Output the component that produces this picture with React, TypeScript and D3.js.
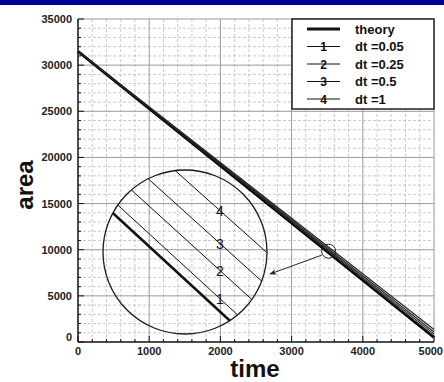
import React from 'react';
import * as d3 from 'd3';

// data
const times = [0, 5000];
const theoryArea = [31500, 500];
const dt005Area = [31500, 610];
const dt025Area = [31500, 850];
const dt05Area = [31500, 1080];
const dt1Area = [31500, 1360];

const seriesNames = ['theory', 'dt =0.05', 'dt =0.25', 'dt =0.5', 'dt =1'];
const seriesMarks = ['', '1', '2', '3', '4'];
const seriesValues = [theoryArea, dt005Area, dt025Area, dt05Area, dt1Area];

const xTicks = [0, 1000, 2000, 3000, 4000, 5000];
const yTicks = [0, 5000, 10000, 15000, 20000, 25000, 30000, 35000];

// zoomed spot shown in the inset
const zoomTime = 3520;
const zoomArea = 9842;

const W = 444;
const H = 382;
const FONT = 'Liberation Sans, Arial, sans-serif';

export default function App() {
  const x = d3.scaleLinear().domain([0, 5000]).range([78, 434]);
  const y = d3.scaleLinear().domain([0, 35000]).range([342, 19]);

  const xMinor = d3.range(0, 5001, 200);
  const yMinor = d3.range(0, 35001, 1000);

  const line = d3.line<[number, number]>()
    .x(d => x(d[0]))
    .y(d => y(d[1]));

  const pts = (vals: number[]) => times.map((t, i) => [t, vals[i]] as [number, number]);

  // inset
  const cx = 185, cy = 252, r = 82;
  const halfT = 73.6, halfA = 496;
  const xi = d3.scaleLinear().domain([zoomTime - halfT, zoomTime + halfT]).range([cx - r, cx + r]);
  const yi = d3.scaleLinear().domain([zoomArea - halfA, zoomArea + halfA]).range([cy + r, cy - r]);
  const lineInset = d3.line<[number, number]>()
    .x(d => xi(d[0]))
    .y(d => yi(d[1]));
  const labelX = 220;
  const labelT = xi.invert(labelX);

  const spotX = x(zoomTime);
  const spotY = y(zoomArea);

  // legend
  const lgX = 292, lgY = 19, lgW = 142, lgH = 90;
  const lgRow = (i: number) => lgY + 10 + i * 17.5;

  return (
    <svg width={W} height={H} style={{ position: 'absolute', left: 0, top: 0, background: '#fff' }}
      fontFamily={FONT}>
      <rect x={0} y={0} width={W} height={5} fill="#000096" />

      {/* minor grid */}
      {xMinor.filter(v => v % 1000 !== 0).map(v => (
        <line key={'xm' + v} x1={x(v)} x2={x(v)} y1={y(0)} y2={y(35000)}
          stroke="#bdbdbd" strokeWidth={0.8} strokeDasharray="3,2" />
      ))}
      {yMinor.filter(v => v % 5000 !== 0).map(v => (
        <line key={'ym' + v} x1={x(0)} x2={x(5000)} y1={y(v)} y2={y(v)}
          stroke="#bdbdbd" strokeWidth={0.8} strokeDasharray="3,2" />
      ))}
      {/* major grid */}
      {xTicks.slice(1).map(v => (
        <line key={'xg' + v} x1={x(v)} x2={x(v)} y1={y(0)} y2={y(35000)} stroke="#9a9a9a" strokeWidth={1} />
      ))}
      {yTicks.slice(1).map(v => (
        <line key={'yg' + v} x1={x(0)} x2={x(5000)} y1={y(v)} y2={y(v)} stroke="#9a9a9a" strokeWidth={1} />
      ))}

      {/* axes */}
      <line x1={x(0)} x2={x(5000)} y1={y(0)} y2={y(0)} stroke="#111" strokeWidth={1.5} />
      <line x1={x(0)} x2={x(0)} y1={y(0)} y2={y(35000)} stroke="#111" strokeWidth={1.5} />
      {xMinor.map(v => (
        <line key={'xt' + v} x1={x(v)} x2={x(v)} y1={y(0)} y2={y(0) - (v % 1000 === 0 ? 6 : 3)}
          stroke="#111" strokeWidth={1} />
      ))}
      {yMinor.map(v => (
        <line key={'yt' + v} x1={x(0)} x2={x(0) + (v % 5000 === 0 ? 6 : 3)} y1={y(v)} y2={y(v)}
          stroke="#111" strokeWidth={1} />
      ))}
      {xTicks.map(v => (
        <text key={'xl' + v} x={v === 5000 ? W - 1 : x(v)} y={355} textAnchor={v === 5000 ? 'end' : 'middle'}
          fontSize={11} fontWeight="bold" fill="#222">{v}</text>
      ))}
      {yTicks.map(v => (
        <text key={'yl' + v} x={72} y={y(v) + (v === 0 ? -1 : 4)} textAnchor="end" fontSize={11} fontWeight="bold" fill="#222">{v}</text>
      ))}
      <text x={255} y={377} textAnchor="middle" fontSize={24} fontWeight="bold" fill="#111">time</text>
      <text transform={`translate(33,185) rotate(-90)`} textAnchor="middle" fontSize={24} fontWeight="bold" fill="#111">area</text>

      {/* series */}
      {seriesValues.map((vals, i) => (
        <path key={'s' + i} d={line(pts(vals)) || ''} fill="none" stroke={i === 0 ? '#000' : '#222'}
          strokeWidth={i === 0 ? 2.8 : 1.1} />
      ))}

      {/* marked spot and arrow */}
      <circle cx={spotX} cy={spotY} r={7} fill="none" stroke="#222" strokeWidth={1} />
      <defs>
        <marker id="arrowHead" viewBox="0 0 10 10" refX={9} refY={5} markerWidth={9} markerHeight={7} orient="auto">
          <path d="M0,1 L10,5 L0,9 L3,5 Z" fill="#222" />
        </marker>
        <clipPath id="insetClip">
          <circle cx={cx} cy={cy} r={r} />
        </clipPath>
      </defs>
      <line x1={spotX - 7} x2={270} y1={spotY + 4} y2={274} stroke="#222" strokeWidth={1} markerEnd="url(#arrowHead)" />

      {/* inset */}
      <circle cx={cx} cy={cy} r={r} fill="none" stroke="#1a1a1a" strokeWidth={1.3} />
      <g clipPath="url(#insetClip)">
        {seriesValues.map((vals, i) => (
          <path key={'i' + i} d={lineInset(pts(vals)) || ''} fill="none" stroke="#111"
            strokeWidth={i === 0 ? 2.6 : 1} />
        ))}
      </g>
      {seriesValues.map((vals, i) => {
        if (i === 0) return null;
        const valAt = d3.scaleLinear().domain(times).range(vals);
        return (
          <text key={'il' + i} x={labelX} y={yi(valAt(labelT)) + 5} textAnchor="middle" fontSize={14} fill="#111">
            {seriesMarks[i]}
          </text>
        );
      })}

      {/* legend */}
      <rect x={lgX} y={lgY} width={lgW} height={lgH} fill="#fff" stroke="#222" strokeWidth={1.5} />
      {seriesNames.map((name, i) => (
        <g key={'lg' + i}>
          <line x1={307} x2={340} y1={lgRow(i)} y2={lgRow(i)} stroke="#111" strokeWidth={i === 0 ? 3 : 1} />
          {i > 0 && (
            <text x={323.5} y={lgRow(i) + 4.5} textAnchor="middle" fontSize={12} fontWeight="bold" fill="#111">
              {seriesMarks[i]}
            </text>
          )}
          <text x={355} y={lgRow(i) + 4.5} fontSize={13} fontWeight="bold" fill="#111">{name}</text>
        </g>
      ))}
    </svg>
  );
}
